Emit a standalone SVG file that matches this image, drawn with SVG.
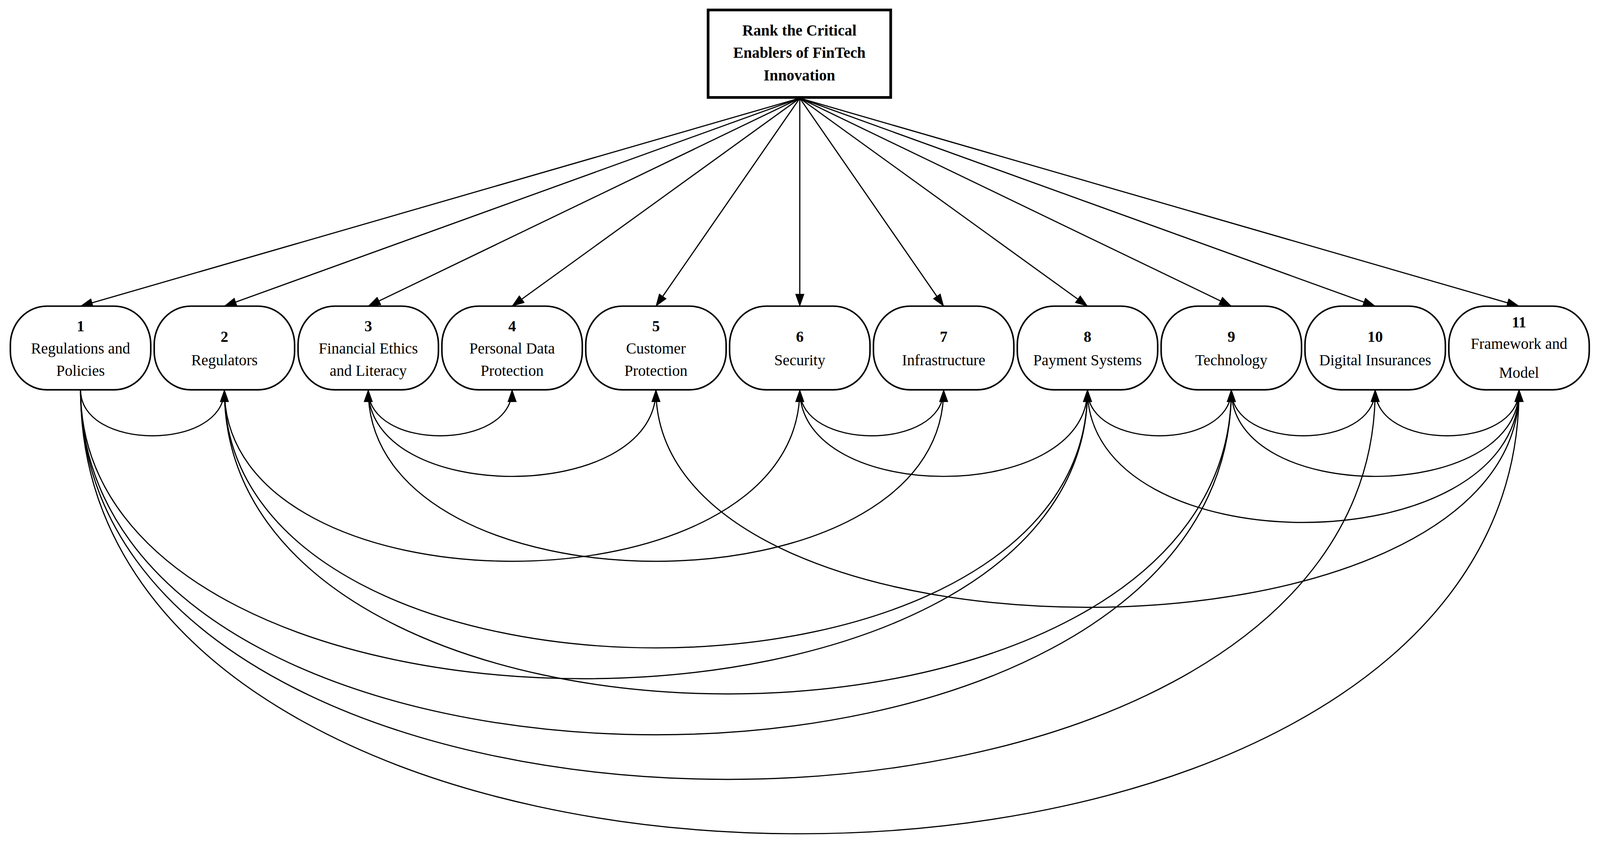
<svg xmlns="http://www.w3.org/2000/svg" width="4170" height="2168" viewBox="0 0 4170 2168">
<style>
.n{fill:#fff;stroke:#000;stroke-width:4}
.t{font-family:"Liberation Serif",serif;font-size:40px;text-anchor:middle}
.b{font-weight:bold}
.c path{fill:none;stroke:#000;stroke-width:3;marker-end:url(#a)}
</style>
<defs><marker id="a" markerUnits="userSpaceOnUse" markerWidth="34" markerHeight="24" refX="32" refY="12" orient="auto"><path d="M0,0 L34,12 L0,24 Z" fill="#000"/></marker></defs>
<rect width="4170" height="2168" fill="#fff"/>
<g transform="scale(0.982)">
<g id="root"><rect x="1846" y="26" width="476" height="228" fill="#fff" stroke="#000" stroke-width="7"/>
<text class="t b" x="2084" y="93">Rank the Critical</text><text class="t b" x="2084" y="151">Enablers of FinTech</text><text class="t b" x="2084" y="210">Innovation</text></g>
<g class="c" id="connectors">
<path d="M2085,256 L210,798"/><path d="M2085,256 L585,798"/><path d="M2085,256 L960,798"/><path d="M2085,256 L1335,798"/><path d="M2085,256 L1710,798"/><path d="M2085,256 L2085,798"/><path d="M2085,256 L2460,798"/><path d="M2085,256 L2835,798"/><path d="M2085,256 L3210,798"/><path d="M2085,256 L3585,798"/><path d="M2085,256 L3960,798"/>
<path d="M210,1016 C210,1176 585,1176 585,1016"/>
<path d="M960,1016 C960,1176 1335,1176 1335,1016"/>
<path d="M2085,1016 C2085,1176 2460,1176 2460,1016"/>
<path d="M2835,1016 C2835,1176 3210,1176 3210,1016"/>
<path d="M3210,1016 C3210,1176 3585,1176 3585,1016"/>
<path d="M3585,1016 C3585,1176 3960,1176 3960,1016"/>
<path d="M960,1016 C960,1317 1710,1317 1710,1016"/>
<path d="M2085,1016 C2085,1317 2835,1317 2835,1016"/>
<path d="M3210,1016 C3210,1317 3960,1317 3960,1016"/>
<path d="M2835,1016 C2835,1477 3960,1477 3960,1016"/>
<path d="M585,1016 C585,1612 2085,1612 2085,1016"/>
<path d="M2460,1016 C2460,1612 960,1612 960,1016"/>
<path d="M1710,1016 C1710,1772 3960,1772 3960,1016"/>
<path d="M585,1016 C585,1913 2835,1913 2835,1016"/>
<path d="M210,1016 C210,2020 2835,2020 2835,1016"/>
<path d="M585,1016 C585,2073 3210,2073 3210,1016"/>
<path d="M210,1016 C210,2215 3210,2215 3210,1016"/>
<path d="M210,1016 C210,2370 3585,2370 3585,1016"/>
<path d="M210,1016 C210,2559 3960,2559 3960,1016"/>
</g>
<g id="n1"><rect class="n" x="27" y="798" width="366" height="218" rx="95" ry="100"/><text class="t b" x="210" y="864">1</text><text class="t" x="210" y="922">Regulations and</text><text class="t" x="210" y="980">Policies</text></g>
<g id="n2"><rect class="n" x="402" y="798" width="366" height="218" rx="95" ry="100"/><text class="t b" x="585" y="891">2</text><text class="t" x="585" y="952">Regulators</text></g>
<g id="n3"><rect class="n" x="777" y="798" width="366" height="218" rx="95" ry="100"/><text class="t b" x="960" y="864">3</text><text class="t" x="960" y="922">Financial Ethics</text><text class="t" x="960" y="980">and Literacy</text></g>
<g id="n4"><rect class="n" x="1152" y="798" width="366" height="218" rx="95" ry="100"/><text class="t b" x="1335" y="864">4</text><text class="t" x="1335" y="922">Personal Data</text><text class="t" x="1335" y="980">Protection</text></g>
<g id="n5"><rect class="n" x="1527" y="798" width="366" height="218" rx="95" ry="100"/><text class="t b" x="1710" y="864">5</text><text class="t" x="1710" y="922">Customer</text><text class="t" x="1710" y="980">Protection</text></g>
<g id="n6"><rect class="n" x="1902" y="798" width="366" height="218" rx="95" ry="100"/><text class="t b" x="2085" y="891">6</text><text class="t" x="2085" y="952">Security</text></g>
<g id="n7"><rect class="n" x="2277" y="798" width="366" height="218" rx="95" ry="100"/><text class="t b" x="2460" y="891">7</text><text class="t" x="2460" y="952">Infrastructure</text></g>
<g id="n8"><rect class="n" x="2652" y="798" width="366" height="218" rx="95" ry="100"/><text class="t b" x="2835" y="891">8</text><text class="t" x="2835" y="952">Payment Systems</text></g>
<g id="n9"><rect class="n" x="3027" y="798" width="366" height="218" rx="95" ry="100"/><text class="t b" x="3210" y="891">9</text><text class="t" x="3210" y="952">Technology</text></g>
<g id="n10"><rect class="n" x="3402" y="798" width="366" height="218" rx="95" ry="100"/><text class="t b" x="3585" y="891">10</text><text class="t" x="3585" y="952">Digital Insurances</text></g>
<g id="n11"><rect class="n" x="3777" y="798" width="366" height="218" rx="95" ry="100"/><text class="t b" x="3960" y="853">11</text><text class="t" x="3960" y="909">Framework and</text><text class="t" x="3960" y="985">Model</text></g>
</g>
</svg>
